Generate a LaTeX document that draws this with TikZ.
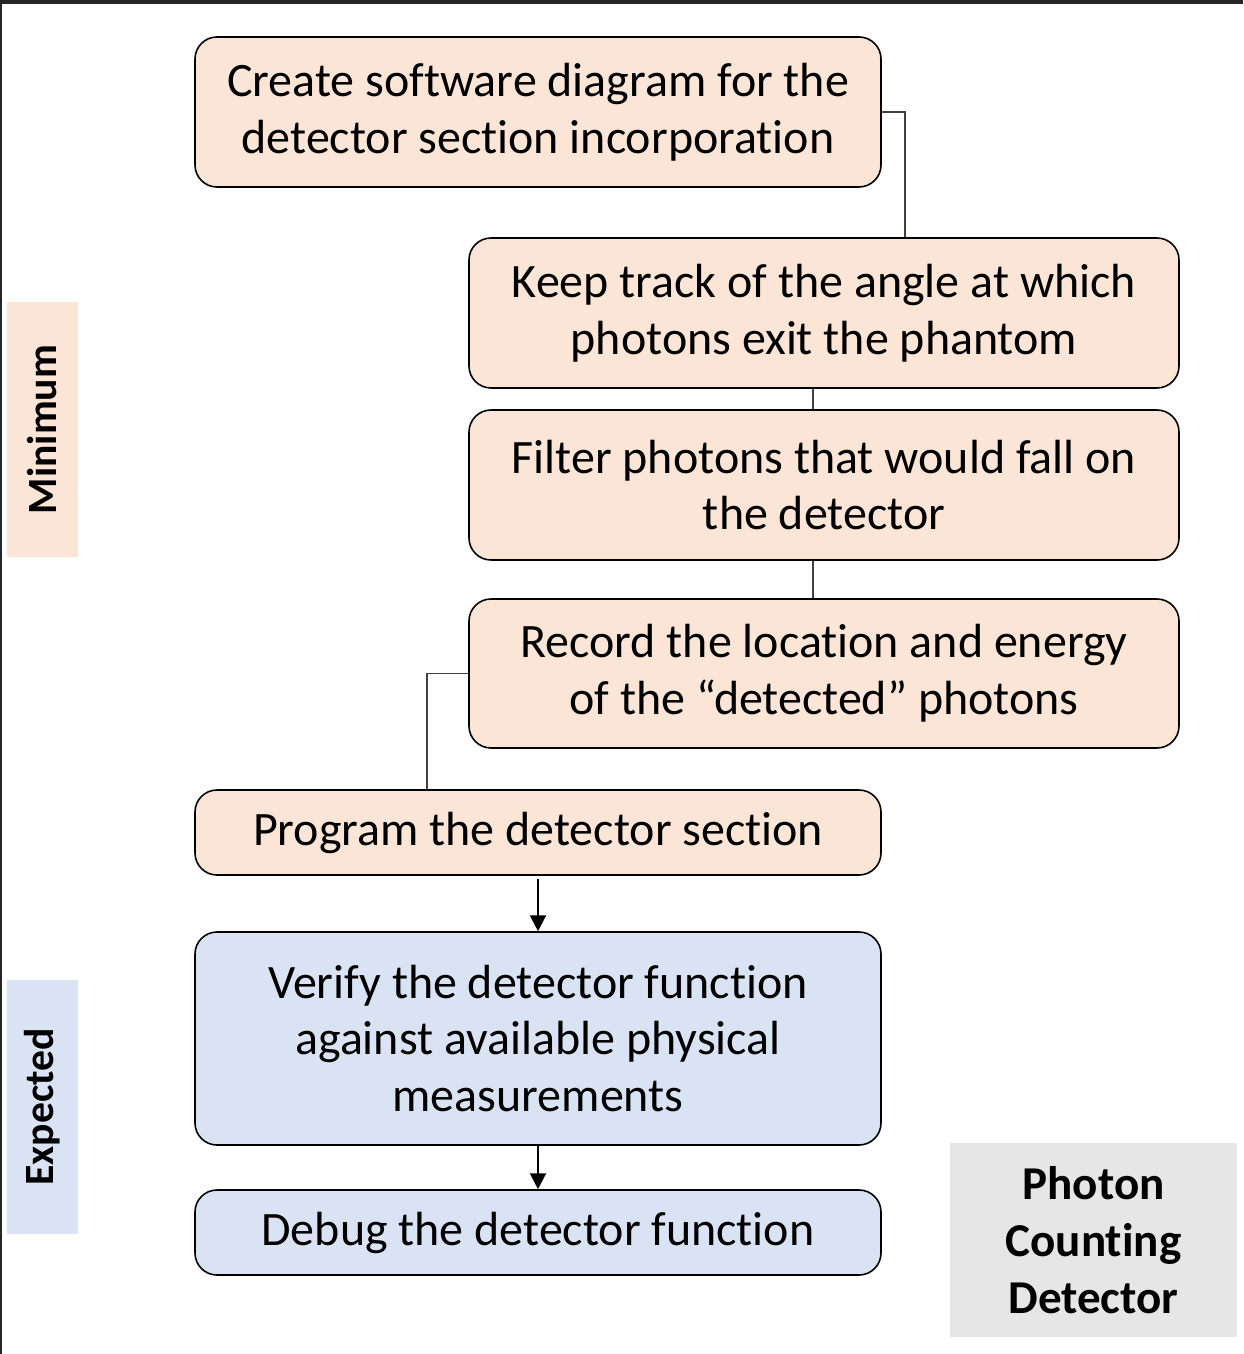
\documentclass[tikz,border=0pt]{standalone}
\usepackage{fontspec}
\setmainfont[Ligatures=NoCommon]{Carlito}
\usetikzlibrary{arrows.meta}
\definecolor{peach}{HTML}{FBE5D6}
\definecolor{bluefill}{HTML}{DAE3F3}
\definecolor{greyfill}{HTML}{E7E6E6}
\definecolor{linkgray}{HTML}{404040}
\begin{document}
\begin{tikzpicture}[x=0.02cm,y=-0.02cm,
  stepbox/.style={draw=black,line width=0.9pt,rounded corners=0.44cm,align=center,
    inner sep=0pt,font=\fontsize{27.3}{32.3}\selectfont},
  pbox/.style={stepbox,fill=peach},
  bbox/.style={stepbox,fill=bluefill},
  tag/.style={inner sep=0pt,font=\bfseries\fontsize{23.7}{28}\selectfont,rotate=90},
  link/.style={draw=linkgray,line width=0.6pt},
  arr/.style={draw=black,line width=1.2pt,-{Triangle[length=9pt,width=9pt]}}]
\useasboundingbox (0,0) rectangle (1243,1354);
\draw[line width=2.2pt,draw=black!85] (0,2) -- (1243,2);
\draw[line width=1.2pt,draw=black!85] (1,2) -- (1,1354);

\node[pbox,minimum width=686*0.02cm,minimum height=150*0.02cm] (create) at (538,112)
  {Create software diagram for the\\detector section incorporation};
\node[pbox,minimum width=710*0.02cm,minimum height=150*0.02cm] (keep) at (824,313)
  {Keep track of the angle at which\\photons exit the phantom};
\node[pbox,minimum width=710*0.02cm,minimum height=150*0.02cm] (filter) at (824,485)
  {Filter photons that would fall on\\the detector};
\node[pbox,minimum width=710*0.02cm,minimum height=149*0.02cm] (record) at (824,673.5)
  {Record the location and energy\\of the “detected” photons};
\node[pbox,minimum width=686*0.02cm,minimum height=85*0.02cm] (program) at (538,832.5)
  {Program the detector section};
\node[bbox,minimum width=686*0.02cm,minimum height=213*0.02cm] (verify) at (538,1038.5)
  {Verify the detector function\\against available physical\\measurements};
\node[bbox,minimum width=686*0.02cm,minimum height=85*0.02cm] (debug) at (538,1232.5)
  {Debug the detector function};

\node[fill=peach,minimum width=71*0.02cm,minimum height=255*0.02cm,inner sep=0pt] (minbox) at (42.5,429.5) {};
\node[tag] (minlbl) at (minbox.center) {Minimum};
\node[fill=bluefill,minimum width=71*0.02cm,minimum height=254*0.02cm,inner sep=0pt] (expbox) at (42.5,1107) {};
\node[tag] (explbl) at (expbox.center) {Expected};
\node[fill=greyfill,minimum width=287*0.02cm,minimum height=194*0.02cm,inner sep=0pt,align=center,
  font=\bfseries\fontsize{26.8}{32.3}\selectfont] (photon) at (1093.5,1240)
  {Photon\\Counting\\Detector};

\coordinate (c1) at (905,112);
\coordinate (c2) at (427,673.5);
\draw[link] (create.east) -- (c1) -- (keep.north -| c1);
\draw[link] (keep.south -| 813,0) -- (filter.north -| 813,0);
\draw[link] (filter.south -| 813,0) -- (record.north -| 813,0);
\draw[link] (record.west) -- (c2) -- (program.north -| c2);
\draw[arr] ([yshift=-0.06cm]program.south) -- (verify.north);
\draw[arr] (verify.south) -- (debug.north);
\end{tikzpicture}
\end{document}
